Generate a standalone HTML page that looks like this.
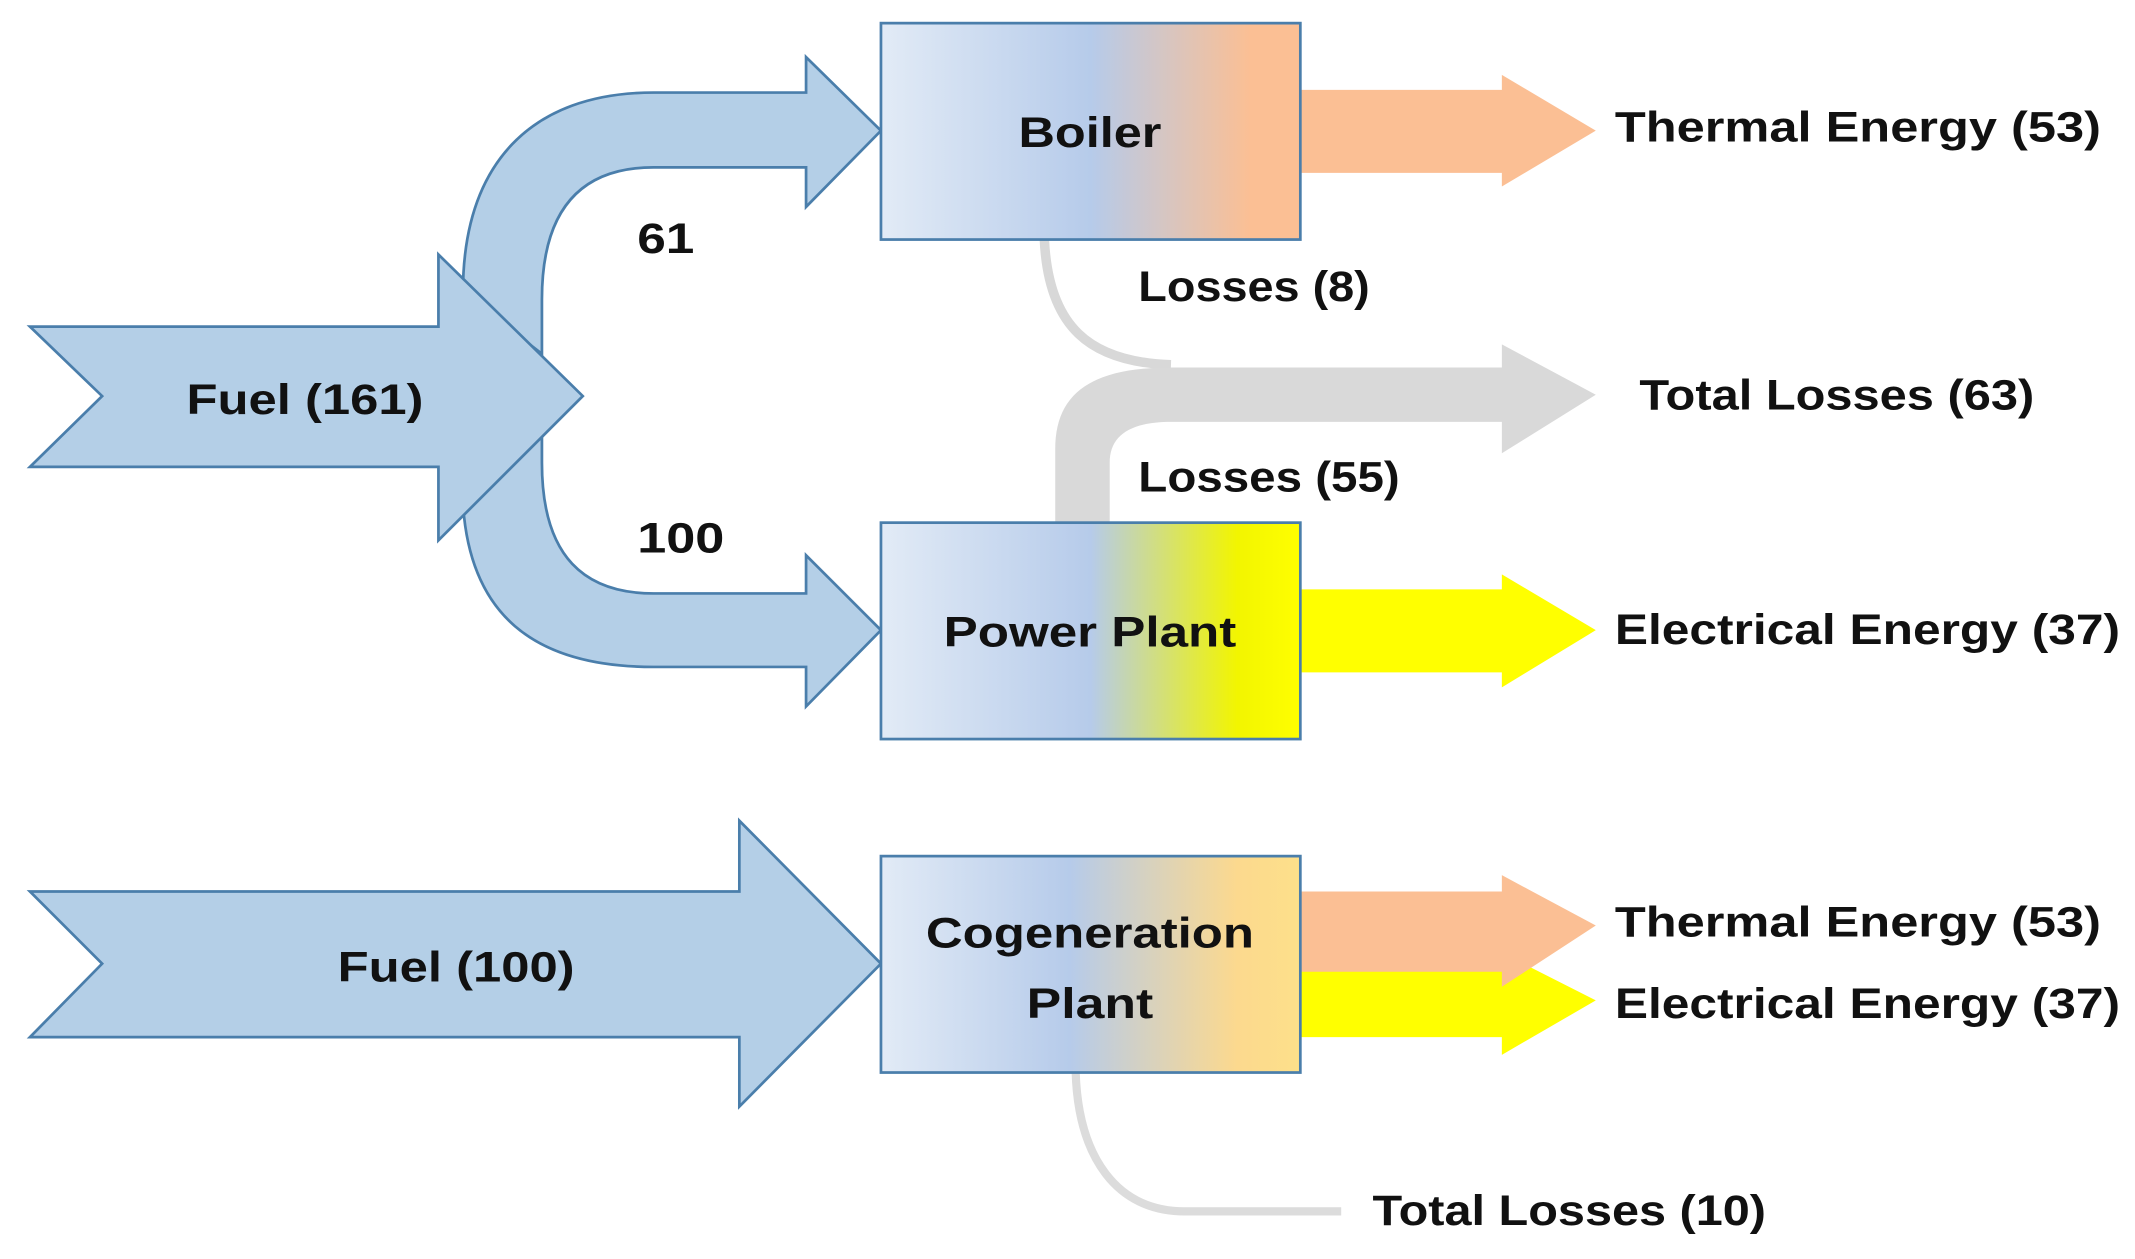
<!DOCTYPE html>
<html><head><meta charset="utf-8"><style>
html,body{margin:0;padding:0;background:#fff;}
svg{display:block;}
text{font-family:"Liberation Sans",sans-serif;font-weight:bold;fill:#111;font-size:31px;}
</style></head><body>
<svg width="2135" height="1259" viewBox="0 0 1568 925" preserveAspectRatio="none" xmlns="http://www.w3.org/2000/svg">
<defs>
<linearGradient id="gb" x1="0" x2="1" y1="0" y2="0">
<stop offset="0" stop-color="#e2ebf6"/><stop offset="0.5" stop-color="#b6cbea"/><stop offset="0.88" stop-color="#fbbf94"/><stop offset="1" stop-color="#fbbf94"/></linearGradient>
<linearGradient id="gp" x1="0" x2="1" y1="0" y2="0">
<stop offset="0" stop-color="#e2ebf6"/><stop offset="0.5" stop-color="#b6cbea"/><stop offset="0.85" stop-color="#f2f500"/><stop offset="1" stop-color="#ffff00"/></linearGradient>
<linearGradient id="gc" x1="0" x2="1" y1="0" y2="0">
<stop offset="0" stop-color="#e2ebf6"/><stop offset="0.45" stop-color="#b6cbea"/><stop offset="0.85" stop-color="#fcd98e"/><stop offset="1" stop-color="#fde08a"/></linearGradient>
</defs>
<!-- grey losses -->
<path d="M767,176 C770,240 800,266 860,268" fill="none" stroke="#d8d8d8" stroke-width="7"/>
<path d="M775,384 L775,330 C775,290 800,270 860,270 L1103,270 L1103,253 L1172,290 L1103,333 L1103,310 L860,310 C830,310 815,320 815,340 L815,384 Z" fill="#d9d9d9"/>
<path d="M790,788 C792,850 820,890 870,890 L985,890" fill="none" stroke="#dcdcdc" stroke-width="6"/>
<!-- output arrows -->
<path d="M955,66 L1103,66 L1103,55 L1172,96 L1103,137 L1103,127 L955,127 Z" fill="#fbbf94"/>
<path d="M955,433 L1103,433 L1103,422 L1172,463 L1103,505 L1103,494 L955,494 Z" fill="#ffff00"/>
<path d="M955,713 L1103,713 L1103,700 L1172,735 L1103,775 L1103,762 L955,762 Z" fill="#ffff00"/>
<path d="M955,655 L1103,655 L1103,643 L1172,680 L1103,725 L1103,714 L955,714 Z" fill="#fbbf94"/>
<!-- curved input arrows -->
<path d="M340,215 C340,120 390,68 480,68 L592,68 L592,42 L647,96 L592,152 L592,123 L480,123 C430,123 398,150 398,220 L398,260 Z" fill="#b4cfe7" stroke="#4a7eab" stroke-width="2"/>
<path d="M340,370 C345,450 390,490 480,490 L592,490 L592,519 L647,463 L592,408 L592,436 L480,436 C430,436 398,410 398,340 L398,320 Z" fill="#b4cfe7" stroke="#4a7eab" stroke-width="2"/>
<path d="M22,240 L322,240 L322,187 L428,291 L322,397 L322,343 L22,343 L75,291 Z" fill="#b4cfe7" stroke="#4a7eab" stroke-width="2"/>
<path d="M22,655 L543,655 L543,603 L647,708 L543,813 L543,762 L22,762 L75,708 Z" fill="#b4cfe7" stroke="#4a7eab" stroke-width="2"/>
<!-- boxes -->
<rect x="647" y="17" width="308" height="159" fill="url(#gb)" stroke="#4a7eab" stroke-width="2"/>
<rect x="647" y="384" width="308" height="159" fill="url(#gp)" stroke="#4a7eab" stroke-width="2"/>
<rect x="647" y="629" width="308" height="159" fill="url(#gc)" stroke="#4a7eab" stroke-width="2"/>
<!-- text -->
<text x="748" y="108" textLength="105" lengthAdjust="spacingAndGlyphs">Boiler</text>
<text x="693" y="475" textLength="215" lengthAdjust="spacingAndGlyphs">Power Plant</text>
<text x="680" y="696" textLength="241" lengthAdjust="spacingAndGlyphs">Cogeneration</text>
<text x="754" y="748" textLength="93" lengthAdjust="spacingAndGlyphs">Plant</text>
<text x="137" y="304" textLength="174" lengthAdjust="spacingAndGlyphs">Fuel (161)</text>
<text x="248" y="721" textLength="174" lengthAdjust="spacingAndGlyphs">Fuel (100)</text>
<text x="468" y="186" textLength="42" lengthAdjust="spacingAndGlyphs">61</text>
<text x="468" y="406" textLength="64" lengthAdjust="spacingAndGlyphs">100</text>
<text x="836" y="221" textLength="170" lengthAdjust="spacingAndGlyphs">Losses (8)</text>
<text x="836" y="361" textLength="192" lengthAdjust="spacingAndGlyphs">Losses (55)</text>
<text x="1186" y="104" textLength="357" lengthAdjust="spacingAndGlyphs">Thermal Energy (53)</text>
<text x="1204" y="301" textLength="290" lengthAdjust="spacingAndGlyphs">Total Losses (63)</text>
<text x="1186" y="473" textLength="371" lengthAdjust="spacingAndGlyphs">Electrical Energy (37)</text>
<text x="1186" y="688" textLength="357" lengthAdjust="spacingAndGlyphs">Thermal Energy (53)</text>
<text x="1186" y="748" textLength="371" lengthAdjust="spacingAndGlyphs">Electrical Energy (37)</text>
<text x="1008" y="900" textLength="289" lengthAdjust="spacingAndGlyphs">Total Losses (10)</text>
</svg>
</body></html>
